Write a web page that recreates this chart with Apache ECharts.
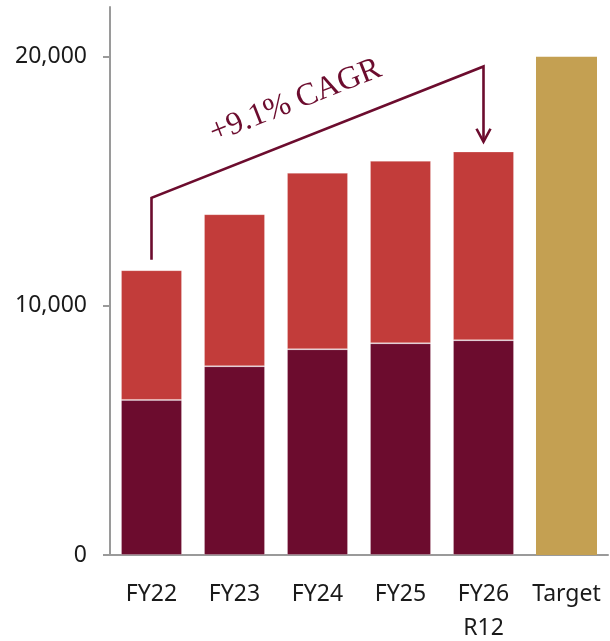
<!DOCTYPE html>
<html>
<head>
<meta charset="utf-8">
<script src="https://cdn.jsdelivr.net/npm/echarts@6/dist/echarts.min.js"></script>
<style>
  html, body { margin: 0; padding: 0; background: #fff; overflow: hidden; }
  #chart { width: 610px; height: 641px; }
</style>
</head>
<body>
<div id="chart"></div>
<script>
// Categories and stacked values
const categories = ['FY22', 'FY23', 'FY24', 'FY25', 'FY26\nR12', 'Target'];
const baseValues = [6225, 7578, 8261, 8502, 8622, null];
const topValues = [5209, 6104, 7080, 7321, 7575, null];
const targetValues = [null, null, null, null, null, 20000];
const yTicks = [0, 10000, 20000];

// CAGR bracket: [category index, value] anchor points
const bracketStart = [0, 11850];
const bracketLeftCorner = [0, 14340];
const bracketRightCorner = [4, 19610];
const bracketArrowTip = [4, 16590];
const cagrText = '+9.1% CAGR';

const MAROON = '#6c0c2e';
const RED = '#c23c3a';
const GOLD = '#c4a052';
const AXIS = '#9a9a9a';
const LABEL_FONT = '"Noto Sans", sans-serif';

const chart = echarts.init(document.getElementById('chart'));

function renderBracket(params, api) {
  const p0 = api.coord(bracketStart);
  const p1 = api.coord(bracketLeftCorner);
  const p2 = api.coord(bracketRightCorner);
  const p3 = api.coord(bracketArrowTip);
  const lineStyle = { stroke: MAROON, lineWidth: 2.6, fill: null, lineJoin: 'miter' };
  const dx = p2[0] - p1[0], dy = p2[1] - p1[1];
  const len = Math.sqrt(dx * dx + dy * dy);
  const angle = Math.atan2(-dy, dx);
  const t = 0.475;
  const nx = dy / len, ny = -dx / len; // normal pointing up-left
  const off = 37;
  const tx = p1[0] + dx * t + nx * off;
  const ty = p1[1] + dy * t + ny * off;
  return {
    type: 'group',
    children: [
      { type: 'polyline', shape: { points: [p0, p1, p2, p3] }, style: lineStyle },
      { type: 'polyline', shape: { points: [[p3[0] - 7, p3[1] - 13], p3, [p3[0] + 7, p3[1] - 13]] }, style: lineStyle },
      {
        type: 'text', x: tx, y: ty, rotation: angle,
        style: {
          text: cagrText, fill: MAROON,
          font: '32px "Liberation Serif", "DejaVu Serif", serif',
          align: 'center', verticalAlign: 'middle'
        }
      }
    ]
  };
}

chart.setOption({
  animation: false,
  grid: { left: 110, right: 2, top: 7, bottom: 86, outerBoundsMode: 'none' },
  xAxis: {
    type: 'category',
    data: categories,
    axisLine: { lineStyle: { color: AXIS, width: 2 } },
    axisTick: { length: 8, lineStyle: { color: AXIS, width: 2 } },
    axisLabel: {
      color: '#1a1a1a', fontSize: 23, fontFamily: LABEL_FONT,
      margin: 22, lineHeight: 34, interval: 0
    }
  },
  yAxis: {
    type: 'value',
    min: 0, max: 22000,
    splitLine: { show: false },
    axisLine: { show: true, lineStyle: { color: AXIS, width: 2 } },
    axisTick: { show: true, length: 7, customValues: yTicks, lineStyle: { color: AXIS, width: 2 } },
    axisLabel: {
      customValues: yTicks,
      color: '#1a1a1a', fontSize: 23, fontFamily: LABEL_FONT,
      margin: 23,
      formatter: v => v.toLocaleString('en-US')
    }
  },
  series: [
    {
      type: 'bar', stack: 'total', data: baseValues, barWidth: '73.5%',
      itemStyle: { color: MAROON, borderColor: 'rgba(255,255,255,0.22)', borderWidth: 1 }
    },
    {
      type: 'bar', stack: 'total', data: topValues,
      itemStyle: { color: RED, borderColor: 'rgba(255,255,255,0.22)', borderWidth: 1 }
    },
    {
      type: 'bar', stack: 'total', data: targetValues,
      itemStyle: { color: GOLD }
    },
    {
      type: 'custom', data: [[0, 0]], renderItem: renderBracket, silent: true, z: 10
    }
  ]
});
</script>
</body>
</html>
